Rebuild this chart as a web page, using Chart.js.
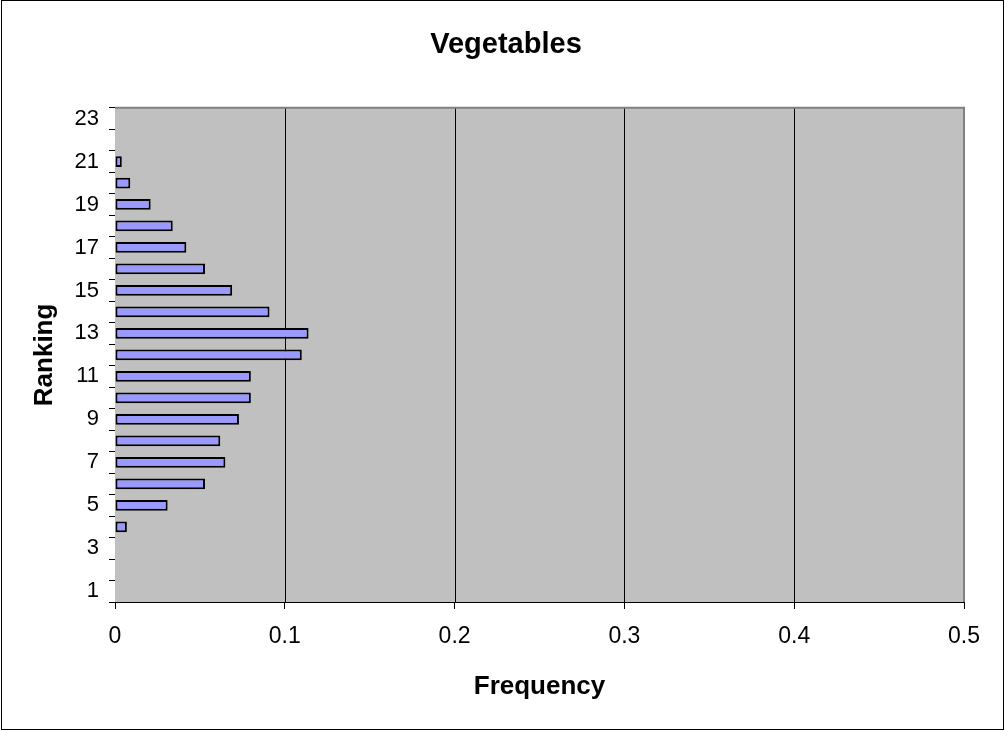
<!DOCTYPE html>
<html>
<head>
<meta charset="utf-8">
<script src="https://cdn.jsdelivr.net/npm/chart.js@4/dist/chart.umd.min.js"></script>
<style>
  body { margin: 0; background: #fff; }
  canvas { display: block; }
</style>
</head>
<body>
<canvas id="chart" width="1005" height="731"></canvas>
<script>
// ranking 1..23, frequency
const rankings = ['1','2','3','4','5','6','7','8','9','10','11','12','13','14','15','16','17','18','19','20','21','22','23']
const frequency = [0, 0, 0, 0.007, 0.031, 0.053, 0.065, 0.062, 0.073, 0.080, 0.080, 0.110, 0.114, 0.091, 0.069, 0.053, 0.042, 0.034, 0.021, 0.009, 0.004, 0, 0]
const xTicks = [0, 0.1, 0.2, 0.3, 0.4, 0.5]

const FONT = 'Arial, "Liberation Sans", sans-serif'

// grey plot area + outer frame, excel style
const plotBox = {
  id: 'plotBox',
  beforeDatasetsDraw(chart) {
    const { ctx, chartArea: a } = chart
    ctx.save()
    ctx.fillStyle = '#c0c0c0'
    ctx.fillRect(a.left, a.top, a.right - a.left, a.bottom - a.top)
    ctx.strokeStyle = '#000'
    ctx.lineWidth = 1
    xTicks.slice(1, -1).forEach((v) => {
      const x = Math.round(chart.scales.x.getPixelForValue(v)) + 0.5
      ctx.beginPath()
      ctx.moveTo(x, a.top)
      ctx.lineTo(x, a.bottom)
      ctx.stroke()
    })
    ctx.restore()
  },
  afterDraw(chart) {
    const { ctx, chartArea: a } = chart
    ctx.save()
    ctx.strokeStyle = '#808080'
    ctx.lineWidth = 2
    ctx.beginPath()
    ctx.moveTo(a.left, a.top)
    ctx.lineTo(a.right, a.top)
    ctx.lineTo(a.right, a.bottom)
    ctx.stroke()
    ctx.strokeStyle = '#000'
    ctx.lineWidth = 1
    ctx.strokeRect(1.5, 0.5, 1002, 729)
    ctx.restore()
  }
}

new Chart(document.getElementById('chart'), {
  type: 'bar',
  data: {
    labels: rankings,
    datasets: [{
      label: 'Frequency',
      data: frequency,
      backgroundColor: '#9999ff',
      borderColor: '#000',
      borderWidth: 2,
      borderSkipped: false,
      barPercentage: 0.5,
      categoryPercentage: 1
    }]
  },
  options: {
    indexAxis: 'y',
    responsive: false,
    animation: false,
    // left padding shifts the title centre to match
    layout: { padding: { left: 48, right: 41, top: 0, bottom: 0 } },
    plugins: {
      legend: { display: false },
      tooltip: { enabled: false },
      title: {
        display: true,
        text: 'Vegetables',
        color: '#000',
        font: { family: FONT, size: 29, weight: 'bold' },
        padding: { top: 28, bottom: 45 }
      }
    },
    scales: {
      x: {
        type: 'linear',
        min: 0,
        max: 0.5,
        afterFit(scale) { scale.height = 129 },
        afterBuildTicks(scale) { scale.ticks = xTicks.map((v) => ({ value: v })) },
        ticks: {
          color: '#000',
          padding: 14,
          font: { family: FONT, size: 23 },
          callback: (v) => String(Math.round(v * 10) / 10)
        },
        grid: { drawOnChartArea: false, color: '#000', tickLength: 7 },
        border: { color: '#000', width: 1 },
        title: {
          display: true,
          text: 'Frequency',
          color: '#000',
          font: { family: FONT, size: 26, weight: 'bold' },
          padding: { top: 0, bottom: 29 }
        }
      },
      y: {
        reverse: true,
        afterFit(scale) { scale.width = 67 },
        ticks: {
          color: '#000',
          padding: 10,
          autoSkip: false,
          font: { family: FONT, size: 22 },
          callback(value) {
            const lab = this.getLabelForValue(value)
            return Number(lab) % 2 === 1 ? lab : ''
          }
        },
        grid: { drawOnChartArea: false, color: '#000', tickLength: 6, offset: true },
        border: { color: '#000', width: 1 },
        title: {
          display: true,
          text: 'Ranking',
          color: '#000',
          font: { family: FONT, size: 26, weight: 'bold' },
          padding: { top: -18.6, bottom: 0 }
        }
      }
    }
  },
  plugins: [plotBox]
})
</script>
</body>
</html>
